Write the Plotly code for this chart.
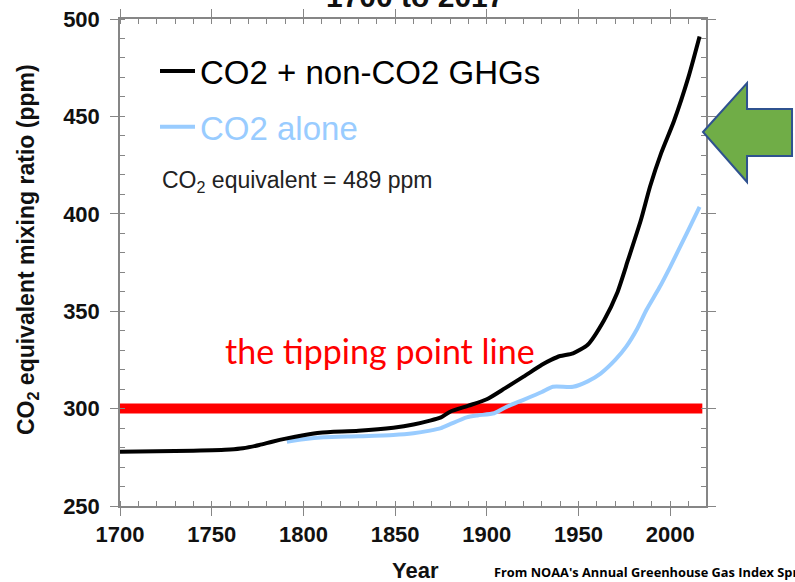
import plotly.graph_objects as go

# ---------------- data ----------------
years_total = [1700, 1720, 1740, 1760, 1767, 1776, 1783, 1791, 1800, 1809, 1830, 1849,
               1860, 1869, 1875, 1880, 1890, 1900, 1910, 1920, 1930, 1935, 1940, 1947,
               1955, 1964, 1971, 1977, 1984, 1989, 1995, 2002, 2010, 2016]
co2_total = [277.9, 278.1, 278.4, 279.0, 279.6, 281.3, 283.0, 284.7, 286.3, 287.6, 288.6, 290.2,
             291.8, 293.8, 295.5, 298.4, 301.5, 304.8, 310.5, 316.4, 322.5, 325.0, 327.0, 328.4,
             332.8, 345.5, 359.2, 376.3, 396.8, 414.0, 431.0, 447.5, 470.4, 491.0]

years_co2 = [1791, 1800, 1811, 1830, 1849, 1860, 1869, 1875, 1880, 1889, 1895, 1904, 1911,
             1920, 1930, 1936, 1947, 1955, 1962, 1970, 1976, 1982, 1987, 1994, 2000, 2009, 2016]
co2_alone = [283.0, 284.3, 285.3, 285.8, 286.4, 287.3, 288.7, 290.0, 292.0, 295.5, 296.5, 297.6, 301.0,
             304.5, 308.5, 311.2, 311.2, 314.0, 318.0, 325.0, 331.8, 341.0, 350.6, 362.0, 372.8, 390.0, 403.6]

tipping_years = [1700, 2017.5]
tipping_value = [300, 300]

series_names = ["CO2 + non-CO2 GHGs", "CO2 alone"]
x_ticks = [1700, 1750, 1800, 1850, 1900, 1950, 2000]
y_ticks = [250, 300, 350, 400, 450, 500]

# ---------------- layout helpers ----------------
W, H = 795, 582
ML, MR, MT, MB = 120, 89, 19, 76
PW, PH = W - ML - MR, H - MT - MB


def px(x):
    return (x - ML) / PW


def py(y):
    return (H - MB - y) / PH


BLACK = "#000000"
BLUE = "#99CCFF"
AXIS = "#868686"

fig = go.Figure()

fig.add_trace(go.Scatter(
    x=tipping_years, y=tipping_value, mode="lines",
    line=dict(color="#FF0000", width=10), showlegend=False, hoverinfo="skip"))

fig.add_trace(go.Scatter(
    x=years_co2, y=co2_alone, mode="lines",
    line=dict(color=BLUE, width=4, shape="spline", smoothing=0.6),
    name=f"<span style='color:{BLUE}'>{series_names[1]}</span>",
    legendgroup="b", legendrank=2))

fig.add_trace(go.Scatter(
    x=years_total, y=co2_total, mode="lines",
    line=dict(color=BLACK, width=4, shape="spline", smoothing=0.6),
    name=series_names[0], legendgroup="a", legendrank=1))

axis_common = dict(
    showline=True, linecolor=AXIS, linewidth=1.5, mirror="allticks",
    ticks="outside", ticklen=8, tickcolor=AXIS, tickwidth=1,
    showgrid=False, zeroline=False, automargin=False,
    tickfont=dict(family="Liberation Sans", size=22, color="#111111", weight="bold"),
)

fig.update_xaxes(
    range=[1700, 2019.5], tickvals=x_ticks, ticktext=[str(v) for v in x_ticks],
    minor=dict(ticks="inside", ticklen=5, dtick=10, tick0=1700, tickcolor=AXIS),
    **axis_common)
fig.update_yaxes(
    range=[250, 500], tickvals=y_ticks, ticktext=[str(v) for v in y_ticks],
    minor=dict(ticks="inside", ticklen=5, dtick=10, tick0=250, tickcolor=AXIS),
    ticklabelstandoff=6,
    **axis_common)

annotations = [
    dict(text="1700 to 2017", x=px(415), y=py(15), xref="paper", yref="paper",
         xanchor="center", yanchor="bottom", showarrow=False,
         font=dict(family="Liberation Sans", size=30, color="#111111", weight="bold")),
    dict(text="CO<sub>2</sub> equivalent mixing ratio (ppm)", x=px(27), y=py(250),
         xref="paper", yref="paper", textangle=-90, xanchor="center", yanchor="middle",
         showarrow=False,
         font=dict(family="Liberation Sans", size=23, color="#111111", weight="bold")),
    dict(text="Year", x=px(415), y=py(570), xref="paper", yref="paper",
         xanchor="center", yanchor="middle", showarrow=False,
         font=dict(family="Liberation Sans", size=22, color="#111111", weight="bold")),
    dict(text="From NOAA's Annual Greenhouse Gas Index Spring 2018", x=px(492), y=py(572),
         xref="paper", yref="paper", xanchor="left", yanchor="middle", showarrow=False,
         font=dict(family="Open Sans", size=12.8, color="#000000", weight="bold")),
    dict(text="CO<sub>2</sub> equivalent = 489 ppm", x=px(160), y=py(181),
         xref="paper", yref="paper", xanchor="left", yanchor="middle", showarrow=False,
         font=dict(family="Liberation Sans", size=23, color="#222222")),
    dict(text="the tipping point line", x=px(380), y=py(350),
         xref="paper", yref="paper", xanchor="center", yanchor="middle", showarrow=False,
         font=dict(family="Lato", size=34, color="#FF0000")),
]

arrow_pts = [(703, 132), (747, 83), (747, 109), (792, 109), (792, 156), (747, 156), (747, 182)]
arrow_path = "M " + " L ".join(f"{px(x):.4f},{py(y):.4f}" for x, y in arrow_pts) + " Z"

fig.update_layout(
    width=W, height=H,
    margin=dict(l=ML, r=MR, t=MT, b=MB, autoexpand=False),
    paper_bgcolor="white", plot_bgcolor="white",
    showlegend=True,
    legend=dict(x=px(155), y=py(43), xanchor="left", yanchor="top",
                bgcolor="rgba(0,0,0,0)", traceorder="grouped", tracegroupgap=10,
                font=dict(family="Liberation Sans", size=33, color="#000000"),
                itemwidth=35),
    annotations=annotations,
    shapes=[dict(type="path", path=arrow_path, xref="paper", yref="paper",
                 fillcolor="#70AD47", line=dict(color="#2F528F", width=2))],
)

fig.write_html(
    "out.html",
    config={"displayModeBar": False},
    post_script="document.body.style.margin='0';document.body.style.overflow='hidden';",
)
